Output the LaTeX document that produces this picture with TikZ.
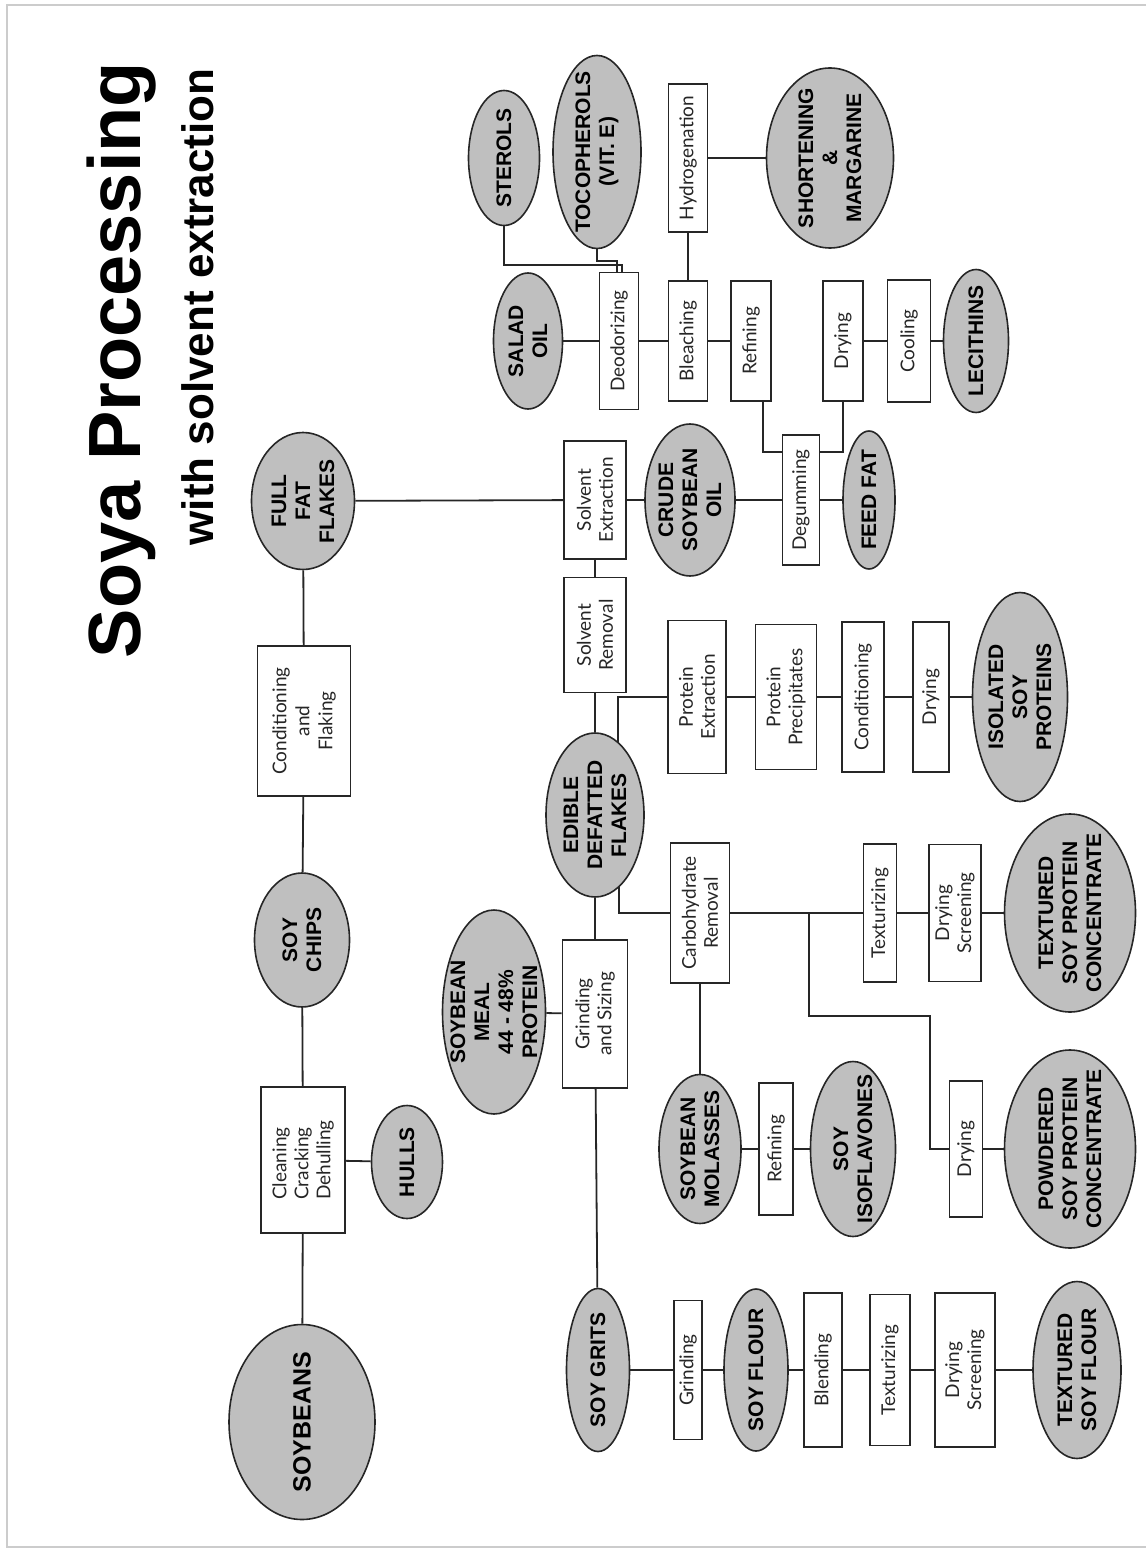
\documentclass[tikz,border=0pt]{standalone}
\usepackage{fontspec}
\setmainfont{Liberation Sans}
\newfontfamily\boxfont{Lato}
\usetikzlibrary{shapes.geometric,backgrounds,calc}
\begin{document}
\begin{tikzpicture}[x=0.5pt,y=-0.5pt,
  bx/.style 2 args={draw=black!85, line width=0.8pt, fill=white, rotate=90, inner sep=0pt,
    align=center, text=black!85, font=\boxfont\fontsize{9.5}{11}\selectfont,
    minimum width=#2*0.5pt, minimum height=#1*0.5pt},
  el/.style 2 args={ellipse, draw=black!85, line width=0.8pt, fill=black!25, rotate=90,
    inner sep=0pt, minimum width=#2*0.5pt, minimum height=#1*0.5pt},
  lab/.style={rotate=90, align=center, inner sep=0pt,
    font=\bfseries\fontsize{10.5}{12}\selectfont},
  conn/.style={draw=black!85, line width=0.9pt}]
\useasboundingbox (0,0) rectangle (1146,1551);
\draw[black!20, line width=1pt] (1146,5) -- (7,5) -- (7,1547) -- (1146,1547);

% titles
\node[rotate=90, anchor=base, inner sep=0pt, font=\bfseries\fontsize{37}{40}\selectfont] (title) at (140,360) {Soya Processing};
\node[rotate=90, anchor=base, inner sep=0pt, font=\bfseries\fontsize{22}{24}\selectfont] (subtitle) at (213,307) {with solvent extraction};

% trunk
\node[el={146}{195}] (soyb) at (302,1422) {};
\node[lab, font=\bfseries\fontsize{12.5}{14}\selectfont] (soybT) at (soyb) {SOYBEANS};
\node[bx={84}{146}, align=left] (clean) at (303,1160) {Cleaning\\Cracking\\Dehulling};
\node[el={71}{113}] (hulls) at (407,1162) {};
\node[lab] (hullsT) at (hulls) {HULLS};
\node[el={95}{134}] (chips) at (302,940) {};
\node[lab] (chipsT) at (chips) {SOY\\CHIPS};
\node[bx={93}{150}, font=\boxfont\fontsize{9.5}{11.5}\selectfont] (cond) at (304,721) {Conditioning\\and\\Flaking};
\node[el={103}{137}] (fff) at (303,501) {};
\node[lab] (fffT) at (fff) {FULL\\FAT\\FLAKES};

% second column
\node[bx={62}{118}] (solvext) at (595,500) {Solvent\\Extraction};
\node[bx={62}{115}] (solvrem) at (595,635) {Solvent\\Removal};
\node[el={98}{164}] (edible) at (595,815) {};
\node[lab] (edibleT) at (edible) {EDIBLE\\DEFATTED\\FLAKES};
\node[bx={65}{148}] (grindsz) at (595,1014) {Grinding\\and Sizing};
\node[el={63}{163}] (grits) at (598,1370) {};
\node[lab] (gritsT) at (grits) {SOY GRITS};
\node[el={103}{204}] (meal) at (494,1012) {};
\node[lab] (mealT) at (meal) {SOYBEAN\\MEAL\\44 - 48\%\\PROTEIN};

% crude oil
\node[el={90}{152}] (crude) at (690,500) {};
\node[lab] (crudeT) at (crude) {CRUDE\\SOYBEAN\\OIL};
\node[bx={37}{130}] (degum) at (801,500) {Degumming};
\node[el={52}{138}] (feed) at (869,500) {};
\node[lab] (feedT) at (feed) {FEED FAT};

% refining row
\node[el={69}{136}] (salad) at (528,341) {};
\node[lab] (saladT) at (salad) {SALAD\\OIL};
\node[bx={39}{137}] (deod) at (619,341) {Deodorizing};
\node[bx={39}{120}] (blea) at (688,341) {Bleaching};
\node[bx={40}{120}] (refo) at (751,341) {Refining};
\node[bx={40}{120}] (dryo) at (843,341) {Drying};
\node[bx={43}{122}] (cool) at (909,341) {Cooling};
\node[el={65}{143}] (lec) at (976,341) {};
\node[lab] (lecT) at (lec) {LECITHINS};

% top row
\node[el={71}{135}] (ster) at (504,158) {};
\node[lab] (sterT) at (ster) {STEROLS};
\node[el={88}{193}] (toco) at (597,152) {};
\node[lab] (tocoT) at (toco) {TOCOPHEROLS\\(VIT. E)};
\node[bx={39}{148}] (hyd) at (688,158) {Hydrogenation};
\node[el={127}{180}] (short) at (830,158) {};
\node[lab] (shortT) at (short) {SHORTENING\\\&\\MARGARINE};

% protein row
\node[bx={58}{153}] (pext) at (697,697) {Protein\\Extraction};
\node[bx={61}{145}] (pprec) at (786,697) {Protein\\Precipitates};
\node[bx={42}{150}] (condp) at (863,697) {Conditioning};
\node[bx={36}{150}] (dryp) at (931,697) {Drying};
\node[el={95}{209}] (isp) at (1020,697) {};
\node[lab] (ispT) at (isp) {ISOLATED\\SOY\\PROTEINS};

% carbohydrate row
\node[bx={59}{140}] (carb) at (700,913) {Carbohydrate\\Removal};
\node[bx={33}{138}] (texc) at (880,913) {Texturizing};
\node[bx={52}{137}] (dsc) at (955,913) {Drying\\Screening};
\node[el={131}{198}] (tspc) at (1070,913) {};
\node[lab] (tspcT) at (tspc) {TEXTURED\\SOY PROTEIN\\CONCENTRATE};

% molasses row
\node[el={82}{149}] (mol) at (700,1149) {};
\node[lab] (molT) at (mol) {SOYBEAN\\MOLASSES};
\node[bx={34}{132}] (refm) at (776,1149) {Refining};
\node[el={85}{175}] (isof) at (853,1149) {};
\node[lab] (isofT) at (isof) {SOY\\ISOFLAVONES};
\node[bx={33}{136}] (dryc) at (966,1149) {Drying};
\node[el={131}{198}] (pspc) at (1070,1149) {};
\node[lab] (pspcT) at (pspc) {POWDERED\\SOY PROTEIN\\CONCENTRATE};

% bottom row
\node[bx={28}{139}] (grind) at (688,1370) {Grinding};
\node[el={64}{162}] (flour) at (756,1370) {};
\node[lab] (flourT) at (flour) {SOY FLOUR};
\node[bx={38}{154}] (blend) at (823,1370) {Blending};
\node[bx={40}{151}] (texf) at (890,1370) {Texturizing};
\node[bx={60}{154}] (dsf) at (965,1370) {Drying\\Screening};
\node[el={88}{177}] (tsf) at (1077,1370) {};
\node[lab] (tsfT) at (tsf) {TEXTURED\\SOY FLOUR};

\begin{scope}[on background layer]
% trunk
\draw[conn] (soyb) -- (clean);
\draw[conn] (clean) -- (hulls);
\draw[conn] (clean) -- (chips);
\draw[conn] (chips) -- (cond);
\draw[conn] (cond) -- (fff);
\draw[conn] (fff) -- (solvext);
% oil line
\draw[conn] (solvext) -- (crude);
\draw[conn] (crude) -- (degum);
\draw[conn] (degum) -- (feed);
\draw[conn] ([xshift=6pt]refo.west) |- ([yshift=-9pt]degum.north east);
\draw[conn] (dryo.west) |- ([yshift=-9pt]degum.south east);
% refining row
\draw[conn] (salad) -- (deod);
\draw[conn] (deod) -- (blea);
\draw[conn] (blea) -- (refo);
\draw[conn] (dryo) -- (cool);
\draw[conn] (cool) -- (lec);
\draw[conn] (hyd) -- (blea);
\draw[conn] (hyd) -- (short);
\draw[conn] (ster) |- ($(deod.east)+(3,-7)$) -- ($(deod.east)+(3,0)$);
\draw[conn] (toco) |- ($(deod.east)+(-2,-11)$) -- ($(deod.east)+(-2,0)$);
% column
\draw[conn] (solvext) -- (solvrem);
\draw[conn] (solvrem) -- (edible);
\draw[conn] (edible) -- (grindsz);
\draw[conn] (grindsz) -- (grits);
\draw[conn] (meal) -- (grindsz);
% protein
\draw[conn] (pext) -| ($(edible)+(23,0)$);
\draw[conn] (pext) -- (pprec);
\draw[conn] (pprec) -- (condp);
\draw[conn] (condp) -- (dryp);
\draw[conn] (dryp) -- (isp);
% carbohydrate
\draw[conn] (carb) -| ($(edible)+(24,0)$);
\draw[conn] (carb) -- (texc);
\draw[conn] (texc) -- (dsc);
\draw[conn] (dsc) -- (tspc);
\draw[conn] ($(carb.south)+(79,0)$) |- ($(dryc)+(-36,-133)$) |- (dryc);
\draw[conn] (dryc) -- (pspc);
\draw[conn] (carb) -- (mol);
\draw[conn] (mol) -- (refm);
\draw[conn] (refm) -- (isof);
% bottom
\draw[conn] (grits) -- (grind);
\draw[conn] (grind) -- (flour);
\draw[conn] (flour) -- (blend);
\draw[conn] (blend) -- (texf);
\draw[conn] (texf) -- (dsf);
\draw[conn] (dsf) -- (tsf);
\end{scope}
\end{tikzpicture}
\end{document}
